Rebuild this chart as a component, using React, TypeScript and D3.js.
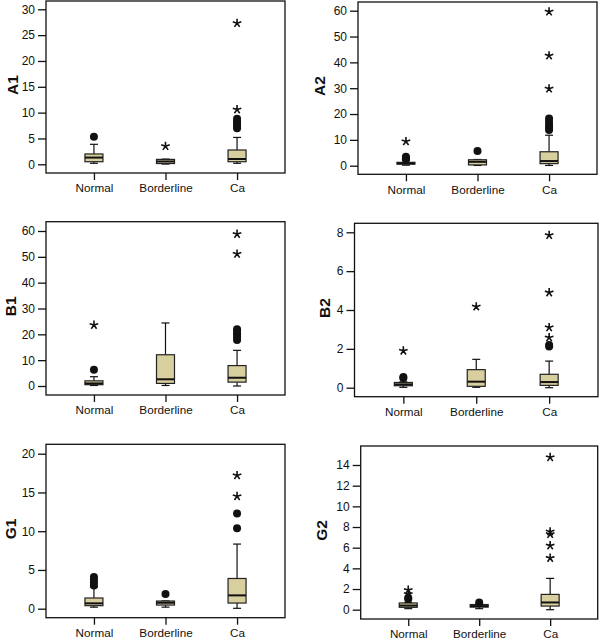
import { useEffect, useRef } from 'react';
import * as d3 from 'd3';

const groups = ['Normal', 'Borderline', 'Ca'];

// box stats per group: [low whisker, q1, median, q3, high whisker]
const a1Box = [[0.2, 0.5, 1.3, 2.0, 3.87], [0.05, 0.15, 0.55, 0.95, 1.0], [0.2, 0.5, 1.03, 2.77, 5.2]];
const a1Circles = [[5.34], [], [7.0, 7.4, 7.9, 8.3, 8.8]];
const a1Stars = [[], [3.5], [10.6, 27.3]];

const a2Box = [[0.2, 0.6, 0.9, 1.3, 2.0], [0.1, 0.3, 1.5, 2.3, 2.4], [0.1, 0.8, 1.8, 5.4, 11.8]];
const a2Circles = [[2.5, 3.0, 3.5], [5.7], [13.8, 14.8, 15.8, 17.0, 18.3]];
const a2Stars = [[9.4], [], [29.8, 42.6, 59.6]];

const b1Box = [[0.2, 0.5, 1.0, 2.0, 3.6], [0.2, 1.0, 2.6, 12.1, 24.4], [0.0, 1.5, 3.2, 7.9, 13.8]];
const b1Circles = [[6.3], [], [17.8, 19.0, 20.0, 21.0, 22.0]];
const b1Stars = [[23.6], [], [51.1, 58.8]];

const b2Box = [[0.02, 0.1, 0.17, 0.27, 0.3], [0.02, 0.07, 0.31, 0.93, 1.46], [0.0, 0.12, 0.29, 0.69, 1.37]];
const b2Circles = [[0.5, 0.55], [], [2.12, 2.2]];
const b2Stars = [[1.9], [4.17], [2.58, 3.1, 4.9, 7.85]];

const g1Box = [[0.2, 0.39, 0.69, 1.38, 2.8], [0.2, 0.47, 0.77, 0.99, 1.0], [0.05, 0.73, 1.72, 3.9, 8.34]];
const g1Circles = [[3.0, 3.4, 3.8, 4.1], [1.9], [10.37, 12.3]];
const g1Stars = [[], [], [14.5, 17.2]];

const g2Box = [[0.1, 0.23, 0.4, 0.65, 0.7], [0.1, 0.25, 0.35, 0.5, 0.55], [0.0, 0.35, 0.7, 1.48, 3.03]];
const g2Circles = [[1.03, 1.15], [0.7], []];
const g2Stars = [[1.5, 1.9], [], [5.0, 6.2, 7.3, 7.55, 14.74]];

const a1Ticks = [0, 5, 10, 15, 20, 25, 30];
const a2Ticks = [0, 10, 20, 30, 40, 50, 60];
const b1Ticks = [0, 10, 20, 30, 40, 50, 60];
const b2Ticks = [0, 2, 4, 6, 8];
const g1Ticks = [0, 5, 10, 15, 20];
const g2Ticks = [0, 2, 4, 6, 8, 10, 12, 14];

// frame: left, right, top, bottom; y0 / yTop: pixel of first and last tick
const panels = [
  { name: 'A1', box: a1Box, circles: a1Circles, stars: a1Stars, ticks: a1Ticks, left: 46, right: 285, top: 1, bottom: 173, y0: 164.3, yTop: 9.3, titleX: 13 },
  { name: 'A2', box: a2Box, circles: a2Circles, stars: a2Stars, ticks: a2Ticks, left: 358, right: 597, top: 2, bottom: 174.3, y0: 165.7, yTop: 10.7, titleX: 320 },
  { name: 'B1', box: b1Box, circles: b1Circles, stars: b1Stars, ticks: b1Ticks, left: 46, right: 285, top: 221.7, bottom: 395, y0: 386, yTop: 231, titleX: 11 },
  { name: 'B2', box: b2Box, circles: b2Circles, stars: b2Stars, ticks: b2Ticks, left: 354.5, right: 598, top: 223.3, bottom: 396.7, y0: 387.7, yTop: 232.3, titleX: 325 },
  { name: 'G1', box: g1Box, circles: g1Circles, stars: g1Stars, ticks: g1Ticks, left: 46, right: 285, top: 444.3, bottom: 617.7, y0: 608.7, yTop: 453.7, titleX: 11 },
  { name: 'G2', box: g2Box, circles: g2Circles, stars: g2Stars, ticks: g2Ticks, left: 360.7, right: 597.7, top: 446, bottom: 619, y0: 609.7, yTop: 465, titleX: 322 },
];

const FONT = 'Liberation Sans, Arial, sans-serif';
const BOX_FILL = '#d8cf9f';

// 5-arm asterisk path centred on 0,0
const starPath = (r: number) => {
  let p = '';
  for (let i = 0; i < 5; i++) {
    const a = -Math.PI / 2 + (i * 2 * Math.PI) / 5;
    p += `M0,0L${(r * Math.cos(a)).toFixed(2)},${(r * Math.sin(a)).toFixed(2)}`;
  }
  return p;
};

const App = () => {
  const ref = useRef<SVGSVGElement>(null);

  useEffect(() => {
    if (!ref.current) return;
    const svg = d3.select(ref.current);
    svg.selectAll('*').remove();

    panels.forEach(pn => {
      const g = svg.append('g');
      const ticks = pn.ticks;
      const y = d3.scaleLinear()
        .domain([ticks[0], ticks[ticks.length - 1]])
        .range([pn.y0, pn.yTop]);
      const x = d3.scalePoint()
        .domain(groups)
        .range([pn.left, pn.right])
        .padding(0.67);

      // Y axis ticks
      const yAxis = d3.axisLeft(y).tickValues(ticks).tickSize(8).tickPadding(3);
      const ya = g.append('g')
        .attr('transform', `translate(${pn.left},0)`)
        .call(yAxis);
      ya.select('.domain').remove();
      ya.selectAll('line').attr('stroke', '#111').attr('stroke-width', 1.3);
      ya.selectAll('text')
        .attr('fill', '#111')
        .style('font-family', FONT)
        .style('font-size', '12px');

      // X axis ticks
      const xAxis = d3.axisBottom(x).tickSize(7).tickPadding(4);
      const xa = g.append('g')
        .attr('transform', `translate(0,${pn.bottom})`)
        .call(xAxis);
      xa.select('.domain').remove();
      xa.selectAll('line').attr('stroke', '#111').attr('stroke-width', 1.3);
      xa.selectAll('text')
        .attr('fill', '#111')
        .style('font-family', FONT)
        .style('font-size', '11.7px');

      // frame
      g.append('rect')
        .attr('x', pn.left)
        .attr('y', pn.top)
        .attr('width', pn.right - pn.left)
        .attr('height', pn.bottom - pn.top)
        .attr('fill', 'none')
        .attr('stroke', '#111')
        .attr('stroke-width', 1.3);

      // Y title
      g.append('text')
        .attr('transform', `translate(${pn.titleX},${(pn.top + pn.bottom) / 2 - 2}) rotate(-90)`)
        .attr('text-anchor', 'middle')
        .attr('dy', '0.35em')
        .style('font-family', FONT)
        .style('font-size', '15.5px')
        .style('font-weight', 'bold')
        .attr('fill', '#111')
        .text(pn.name);

      const bw = 18;
      const cw = 8;
      groups.forEach((grp, i) => {
        const [lo, q1, med, q3, hi] = pn.box[i];
        const cx = x(grp) as number;

        // whiskers
        g.append('line')
          .attr('x1', cx).attr('x2', cx)
          .attr('y1', y(q3)).attr('y2', y(hi))
          .attr('stroke', '#111').attr('stroke-width', 1.2);
        g.append('line')
          .attr('x1', cx).attr('x2', cx)
          .attr('y1', y(q1)).attr('y2', y(lo))
          .attr('stroke', '#111').attr('stroke-width', 1.2);
        [lo, hi].forEach(v => {
          g.append('line')
            .attr('x1', cx - cw / 2).attr('x2', cx + cw / 2)
            .attr('y1', y(v)).attr('y2', y(v))
            .attr('stroke', '#111').attr('stroke-width', 1.2);
        });

        // box
        g.append('rect')
          .attr('x', cx - bw / 2)
          .attr('y', y(q3))
          .attr('width', bw)
          .attr('height', Math.max(0.5, y(q1) - y(q3)))
          .attr('fill', BOX_FILL)
          .attr('stroke', '#222')
          .attr('stroke-width', 1.2);
        g.append('line')
          .attr('x1', cx - bw / 2).attr('x2', cx + bw / 2)
          .attr('y1', y(med)).attr('y2', y(med))
          .attr('stroke', '#111').attr('stroke-width', 2);

        // outliers
        pn.circles[i].forEach(v => {
          g.append('circle')
            .attr('cx', cx).attr('cy', y(v))
            .attr('r', 4)
            .attr('fill', '#111');
        });
        pn.stars[i].forEach(v => {
          g.append('path')
            .attr('transform', `translate(${cx},${y(v)})`)
            .attr('d', starPath(4.5))
            .attr('stroke', '#111')
            .attr('stroke-width', 1.6)
            .attr('fill', 'none');
        });
      });
    });
  }, []);

  return (
    <svg
      ref={ref}
      width={600}
      height={638}
      style={{ position: 'absolute', left: 0, top: 0, background: '#fff' }}
    />
  );
};

export default App;
